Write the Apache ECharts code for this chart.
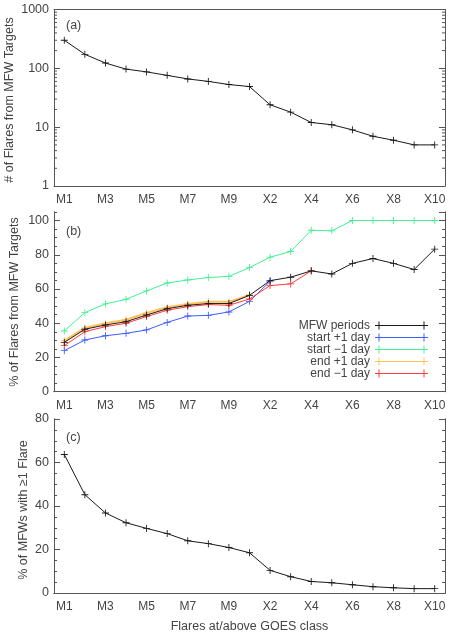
<!DOCTYPE html>
<html><head><meta charset="utf-8">
<script src="https://cdn.jsdelivr.net/npm/echarts@6/dist/echarts.min.js"></script>
<style>html,body{margin:0;padding:0;background:#fff}#c{width:450px;height:634px}</style>
</head><body><div id="c"></div>
<script>
// ---------- data ----------
const categories = ['M1','M2','M3','M4','M5','M6','M7','M8','M9','X1','X2','X3','X4','X5','X6','X7','X8','X9','X10'];
const flareCounts = [300,173,123,97,87,76,66,60,53,49,24,18,12,11,9,7,6,5,5];
const mfwPeriods  = [28.8,36.5,39.0,40.9,44.8,48.5,50.5,51.5,51.5,56.3,64.9,66.9,70.6,68.8,75.0,77.8,75.0,71.4,83.3];
const startPlus1  = [24.0,30.2,32.7,34.1,36.1,40.5,44.2,44.6,46.6,52.8,64.5];
const startMinus1 = [35.5,46.2,51.3,54.0,58.9,63.5,65.3,66.7,67.4,72.5,78.6,81.9,94.3,94.0,100,100,100,100,100];
const endPlus1    = [29.8,37.2,40.0,42.0,46.0,49.3,51.3,52.5,52.5,56.5];
const endMinus1   = [26.9,35.1,38.0,40.0,43.9,47.6,49.7,50.9,50.5,54.2,62.0,63.0,70.6];
const mfwWithFlare = [63.7,45.2,36.8,32.3,29.7,27.3,24.0,22.7,20.9,18.5,10.4,7.5,5.3,4.7,3.8,2.9,2.4,2.0,2.0];
const logMinorTicks = [2,3,4,5,6,7,8,9,20,30,40,50,60,70,80,90,200,300,400,500,600,700,800,900];
const seriesNames = ['MFW periods','start +1 day','start \u22121 day','end +1 day','end \u22121 day'];
const yTitles = ['# of Flares from MFW Targets','% of Flares from MFW Targets','% of MFWs with \u22651 Flare'];
const xTitle = 'Flares at/above GOES class';

// ---------- style ----------
const FONT = "'Liberation Sans',sans-serif";
const AX = '#555';
const TXT = '#444';
const C_BLACK = '#1a1a1a', C_BLUE = '#3f5cff', C_GREEN = '#45f092', C_ORANGE = '#ffc25a', C_RED = '#ff3b3b';
const PLUS = 'path://M0,3.5h8v1h-8zM3.5,0h1v8h-1z';
const LEG_ICON = 'path://M0,3.5h53v1h-53zM3.5,0h1v8h-1zM48.5,0h1v8h-1z';

const grids = [
  {left:54, top:9.5, width:391, height:176.5},
  {left:54, top:212, width:391, height:179.7},
  {left:54, top:419, width:391, height:177.5}
];

function xPair(g, withName){
  const base = {type:'category', gridIndex:g, data:categories, boundaryGap:true,
    axisLine:{lineStyle:{color:AX,width:1}},
    axisTick:{inside:true, alignWithLabel:true, interval:0, length:4, lineStyle:{color:AX}},
    splitLine:{show:false}};
  return [
    Object.assign({}, base, {position:'bottom',
      axisLabel:{interval:1, color:TXT, fontFamily:FONT, fontSize:12, margin:8},
      name: withName ? xTitle : '', nameLocation:'middle', nameGap:27,
      nameTextStyle:{color:TXT, fontFamily:FONT, fontSize:12.5}}),
    Object.assign({}, base, {position:'top', axisLabel:{show:false}})
  ];
}
function yLinear(g, max, interval, pos, minor){
  return {type:'value', gridIndex:g, min:0, max:max, interval:interval, position:pos,
    axisLine:{show:true, lineStyle:{color:AX,width:1}},
    axisTick:{show:true, inside:true, length: minor ? 3 : 6, lineStyle:{color:AX}},
    axisLabel:{show: !minor && pos==='left', showMaxLabel: max % interval === 0, color:TXT, fontFamily:FONT, fontSize:12.5, margin:5},
    splitLine:{show:false}};
}
function yLog(g, pos){
  return {type:'log', logBase:10, gridIndex:g, min:1, max:1000, position:pos,
    axisLine:{show:true, lineStyle:{color:AX,width:1}},
    axisTick:{show:true, inside:true, length:6, lineStyle:{color:AX}},
    axisLabel:{show: pos==='left', color:TXT, fontFamily:FONT, fontSize:12.5, margin:5,
      formatter: v => String(Math.round(v))},
    splitLine:{show:false}};
}

const xAxis = [].concat(xPair(0,false), xPair(1,false), xPair(2,true));
const yAxis = [
  yLog(0, 'left'),                        //0
  yLog(0, 'right'),                       //1
  yLinear(1, 105, 20, 'left', false),     //2
  yLinear(1, 105, 20, 'right', false),    //3
  yLinear(1, 105, 5, 'left', true),       //4
  yLinear(1, 105, 5, 'right', true),      //5
  yLinear(2, 80, 20, 'left', false),      //6
  yLinear(2, 80, 20, 'right', false),     //7
  yLinear(2, 80, 5, 'left', true),        //8
  yLinear(2, 80, 5, 'right', true)        //9
];

function lineSeries(name, data, color, xi, yi, z, width){
  return {type:'line', name:name, data:data, xAxisIndex:xi, yAxisIndex:yi, z:z,
    symbol:PLUS, symbolSize:7, showSymbol:true, animation:false,
    itemStyle:{color:color}, lineStyle:{color:color, width:width||1}};
}

const series = [
  lineSeries('counts', flareCounts, C_BLACK, 0, 0, 5),
  {type:'custom', xAxisIndex:0, yAxisIndex:0, silent:true, clip:false, z:3, animation:false,
   data: logMinorTicks.map(v => [0, v]),
   renderItem: function(params, api){
     const y = api.coord([0, api.value(1)])[1];
     const cs = params.coordSys;
     return {type:'group', children:[
       {type:'line', shape:{x1:cs.x, y1:y, x2:cs.x+3, y2:y}, style:{stroke:AX, lineWidth:1}},
       {type:'line', shape:{x1:cs.x+cs.width, y1:y, x2:cs.x+cs.width-3, y2:y}, style:{stroke:AX, lineWidth:1}}
     ]};
   }},
  lineSeries(seriesNames[2], startMinus1, C_GREEN, 2, 2, 4),
  lineSeries(seriesNames[1], startPlus1, C_BLUE, 2, 2, 4),
  lineSeries(seriesNames[3], endPlus1, C_ORANGE, 2, 2, 4, 2),
  lineSeries(seriesNames[4], endMinus1, C_RED, 2, 2, 5),
  lineSeries(seriesNames[0], mfwPeriods, C_BLACK, 2, 2, 6),
  lineSeries('withFlare', mfwWithFlare, C_BLACK, 4, 6, 5)
];

const LBL_FONT = "12.5px 'Liberation Sans',sans-serif";
function yTitle(text, x, y){
  return {type:'text', x:x, y:y, rotation:Math.PI/2,
    style:{text:text, fill:TXT, font:LBL_FONT, align:'center', verticalAlign:'middle'}};
}
const chart = echarts.init(document.getElementById('c'), null, {renderer:'canvas'});
chart.setOption({
  backgroundColor:'#fff',
  animation:false,
  grid: grids,
  xAxis: xAxis,
  yAxis: yAxis,
  legend: {
    data: seriesNames, orient:'vertical', align:'right', right:22, top:319.5, padding:0,
    icon: LEG_ICON, itemWidth:53, itemHeight:8, itemGap:0, selectedMode:false,
    textStyle:{color:TXT, fontFamily:FONT, fontSize:12, lineHeight:12, width:80, align:'right'}
  },
  graphic: [
    {type:'text', left:66, top:19, style:{text:'(a)', fill:TXT, font:LBL_FONT}},
    {type:'text', left:66, top:225, style:{text:'(b)', fill:TXT, font:LBL_FONT}},
    {type:'text', left:66, top:431, style:{text:'(c)', fill:TXT, font:LBL_FONT}},
    yTitle(yTitles[0], 10, 100),
    yTitle(yTitles[1], 15, 302),
    yTitle(yTitles[2], 24, 510)
  ],
  series: series
});
</script></body></html>
